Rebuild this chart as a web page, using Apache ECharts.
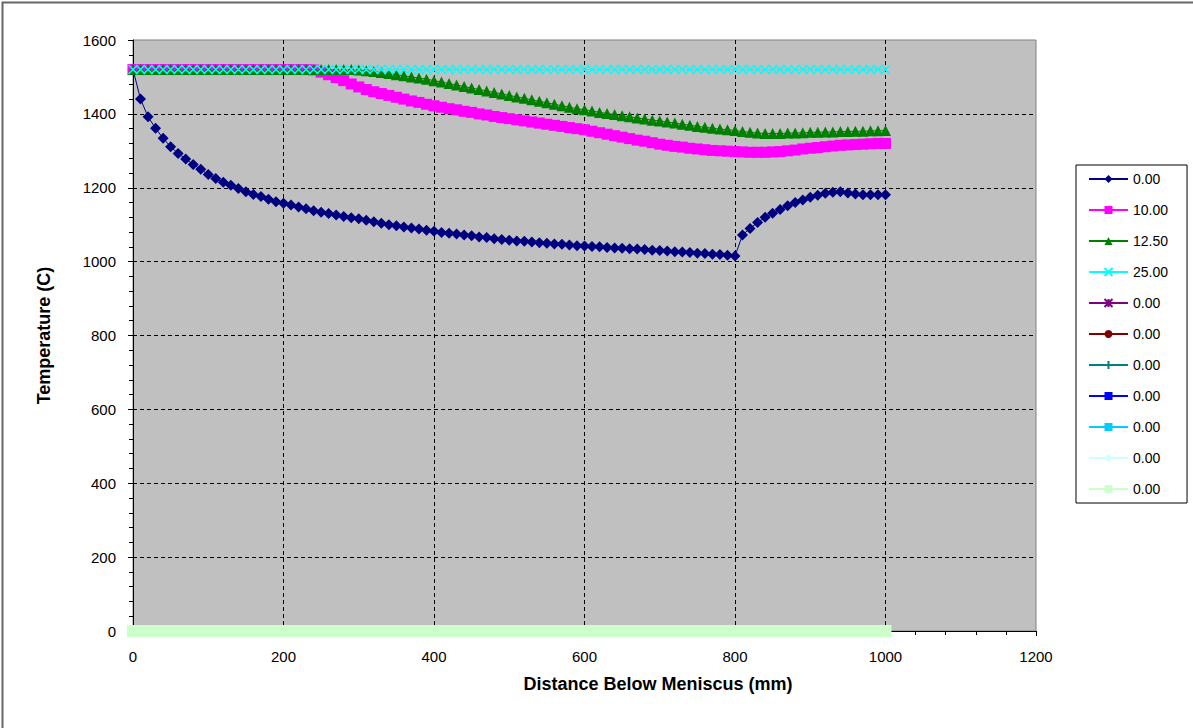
<!DOCTYPE html>
<html><head><meta charset="utf-8">
<script src="https://cdn.jsdelivr.net/npm/echarts@6/dist/echarts.min.js"></script>
<style>html,body{margin:0;padding:0;background:#fff}#c{width:1193px;height:728px}</style>
</head><body><div id="c"></div>
<script>
const distance = [
  0,10,20,30,40,50,60,70,80,90,
  100,110,120,130,140,150,160,170,180,190,
  200,210,220,230,240,250,260,270,280,290,
  300,310,320,330,340,350,360,370,380,390,
  400,410,420,430,440,450,460,470,480,490,
  500,510,520,530,540,550,560,570,580,590,
  600,610,620,630,640,650,660,670,680,690,
  700,710,720,730,740,750,760,770,780,790,
  800,810,820,830,840,850,860,870,880,890,
  900,910,920,930,940,950,960,970,980,990,
  1000];
const temp000 = [
  1520,1440,1392,1361,1334,1311,1293,1278,1263,1250,
  1236,1225,1215,1207,1198,1189,1182,1176,1169,1162,
  1158,1153,1148,1143,1138,1134,1130,1126,1122,1119,
  1116,1112,1108,1104,1100,1097,1094,1091,1088,1085,
  1082,1079,1077,1075,1072,1070,1067,1065,1062,1060,
  1058,1056,1055,1053,1051,1050,1048,1047,1045,1043,
  1042,1041,1040,1038,1037,1036,1035,1034,1033,1031,
  1030,1029,1027,1026,1025,1023,1022,1020,1019,1017,
  1015,1072,1090,1106,1120,1131,1141,1151,1160,1167,
  1174,1180,1185,1188,1189,1186,1183,1181,1181,1181,
  1181];
const temp1000 = [
  1520,1520,1520,1520,1520,1520,1520,1520,1520,1520,
  1520,1520,1520,1520,1520,1520,1520,1520,1520,1520,
  1520,1520,1520,1520,1519,1513,1506,1498,1490,1481,
  1473,1466,1460,1455,1450,1445,1440,1435,1431,1426,
  1422,1418,1414,1411,1407,1404,1400,1397,1393,1390,
  1387,1384,1381,1378,1375,1372,1369,1366,1363,1360,
  1357,1353,1349,1345,1341,1337,1333,1329,1326,1322,
  1318,1315,1312,1310,1307,1305,1303,1301,1300,1299,
  1298,1297,1296,1296,1296,1297,1298,1300,1302,1305,
  1307,1309,1311,1313,1315,1316,1317,1318,1319,1320,
  1320];
const temp1250 = [
  1520,1520,1520,1520,1520,1520,1520,1520,1520,1520,
  1520,1520,1520,1520,1520,1520,1520,1520,1520,1520,
  1520,1520,1520,1520,1520,1520,1520,1520,1520,1520,
  1519,1517,1515,1512,1509,1506,1503,1500,1497,1494,
  1490,1486,1482,1478,1474,1470,1466,1462,1458,1454,
  1450,1446,1442,1438,1434,1430,1426,1422,1418,1414,
  1411,1408,1404,1401,1398,1395,1392,1389,1386,1383,
  1381,1378,1375,1372,1369,1366,1364,1361,1359,1357,
  1355,1352,1350,1348,1347,1347,1347,1348,1348,1349,
  1350,1350,1351,1351,1352,1352,1353,1353,1354,1354,
  1355];
const temp2500 = [
  1520,1520,1520,1520,1520,1520,1520,1520,1520,1520,
  1520,1520,1520,1520,1520,1520,1520,1520,1520,1520,
  1520,1520,1520,1520,1520,1520,1520,1520,1520,1520,
  1520,1520,1520,1520,1520,1520,1520,1520,1520,1520,
  1520,1520,1520,1520,1520,1520,1520,1520,1520,1520,
  1520,1520,1520,1520,1520,1520,1520,1520,1520,1520,
  1520,1520,1520,1520,1520,1520,1520,1520,1520,1520,
  1520,1520,1520,1520,1520,1520,1520,1520,1520,1520,
  1520,1520,1520,1520,1520,1520,1520,1520,1520,1520,
  1520,1520,1520,1520,1520,1520,1520,1520,1520,1520,
  1520];
const zeroSeries = [
  0,0,0,0,0,0,0,0,0,0,
  0,0,0,0,0,0,0,0,0,0,
  0,0,0,0,0,0,0,0,0,0,
  0,0,0,0,0,0,0,0,0,0,
  0,0,0,0,0,0,0,0,0,0,
  0,0,0,0,0,0,0,0,0,0,
  0,0,0,0,0,0,0,0,0,0,
  0,0,0,0,0,0,0,0,0,0,
  0,0,0,0,0,0,0,0,0,0,
  0,0,0,0,0,0,0,0,0,0,
  0];
const legendLabels = ['0.00','10.00','12.50','25.00','0.00','0.00','0.00','0.00','0.00','0.00','0.00'];
const xTitle = 'Distance Below Meniscus (mm)';
const yTitle = 'Temperature (C)';

const FONT = '"Liberation Sans", Arial, sans-serif';
function pairs(ys){ return distance.map((x,i)=>[x, ys[i]]); }

const styles = [
  {data: temp000,  color:'#000080', symbol:'diamond', size:[11,11]},
  {data: temp1000, color:'#FF00FF', symbol:'rect', size:11},
  {data: temp1250, color:'#008000', symbol:'triangle', size:11},
  {data: temp2500, color:'#00FFFF', symbol:'path://M0,0L10,10M10,0L0,10', size:9, stroke:true},
  {data: zeroSeries, color:'#800080', symbol:'path://M0,0L10,10M10,0L0,10M5,0L5,10', size:8, stroke:true},
  {data: zeroSeries, color:'#800000', symbol:'circle', size:8},
  {data: zeroSeries, color:'#008080', symbol:'path://M5,0L5,10M0,5L10,5', size:8, stroke:true},
  {data: zeroSeries, color:'#0000FF', symbol:'rect', size:[6,3]},
  {data: zeroSeries, color:'#00CCFF', symbol:'rect', size:[8,3]},
  {data: zeroSeries, color:'#CCFFFF', symbol:'diamond', size:8},
  {data: zeroSeries, color:'#CCFFCC', symbol:'rect', size:12}
];
const names = styles.map((s,i)=>'s'+i);

const series = styles.map((s,i)=>({
  name: names[i],
  type: 'line',
  data: pairs(s.data),
  symbol: s.symbol,
  symbolSize: s.size,
  showAllSymbol: true,
  clip: false,
  animation: false,
  lineStyle: {color: s.color, width: 1},
  itemStyle: s.stroke ? {color: s.color, borderColor: s.color, borderWidth: 1.5} : {color: s.color, borderWidth: 0},
  emphasis: {disabled: true}
}));

const chart = echarts.init(document.getElementById('c'), null, {renderer:'svg'});
chart.setOption({
  animation: false,
  backgroundColor: '#fff',
  textStyle: {fontFamily: FONT},
  graphic: [{type:'rect', shape:{x:2.5, y:2.5, width:1300, height:900}, style:{fill:'none', stroke:'#666', lineWidth:2}, silent:true}],
  grid: {left:133, top:40, right:157, bottom:97, show:true, backgroundColor:'#C0C0C0', borderColor:'#808080', borderWidth:1},
  legend: {
    orient:'vertical', left:1076, top:165,
    padding:[7,19,7,12], itemGap:17, itemWidth:39, itemHeight:10,
    backgroundColor:'#fff', borderColor:'#000', borderWidth:1, borderRadius:0,
    textStyle:{fontSize:14, color:'#000', fontFamily:FONT},
    data: names,
    formatter: n => legendLabels[names.indexOf(n)],
    selectedMode: false
  },
  xAxis: {
    type:'value', min:0, max:1200, interval:200,
    axisLine:{show:true, onZero:false, lineStyle:{color:'#000', width:1}},
    axisTick:{show:true, length:5, lineStyle:{color:'#000'}},
    minorTick:{show:true, splitNumber:5, length:4, lineStyle:{color:'#000'}},
    splitLine:{show:true, showMinLine:false, showMaxLine:false, lineStyle:{color:'#000', type:[4,3], width:1}},
    axisLabel:{margin:18, fontSize:15, color:'#000', fontFamily:FONT, formatter: v => String(v)},
    name: xTitle, nameLocation:'middle', nameGap:44,
    nameTextStyle:{fontWeight:'bold', fontSize:18, color:'#000', fontFamily:FONT, padding:[0,0,0,147]}
  },
  yAxis: {
    type:'value', min:0, max:1600, interval:200,
    axisLine:{show:true, onZero:false, lineStyle:{color:'#000', width:1}},
    axisTick:{show:true, length:5, lineStyle:{color:'#000'}},
    minorTick:{show:true, splitNumber:5, length:4, lineStyle:{color:'#000'}},
    splitLine:{show:true, showMinLine:false, showMaxLine:false, lineStyle:{color:'#000', type:[4,3], width:1}},
    axisLabel:{margin:17, fontSize:15, color:'#000', fontFamily:FONT, formatter: v => String(v)},
    name: yTitle, nameLocation:'middle', nameGap:80,
    nameTextStyle:{fontWeight:'bold', fontSize:18, color:'#000', fontFamily:FONT}
  },
  series: series
});
</script></body></html>
